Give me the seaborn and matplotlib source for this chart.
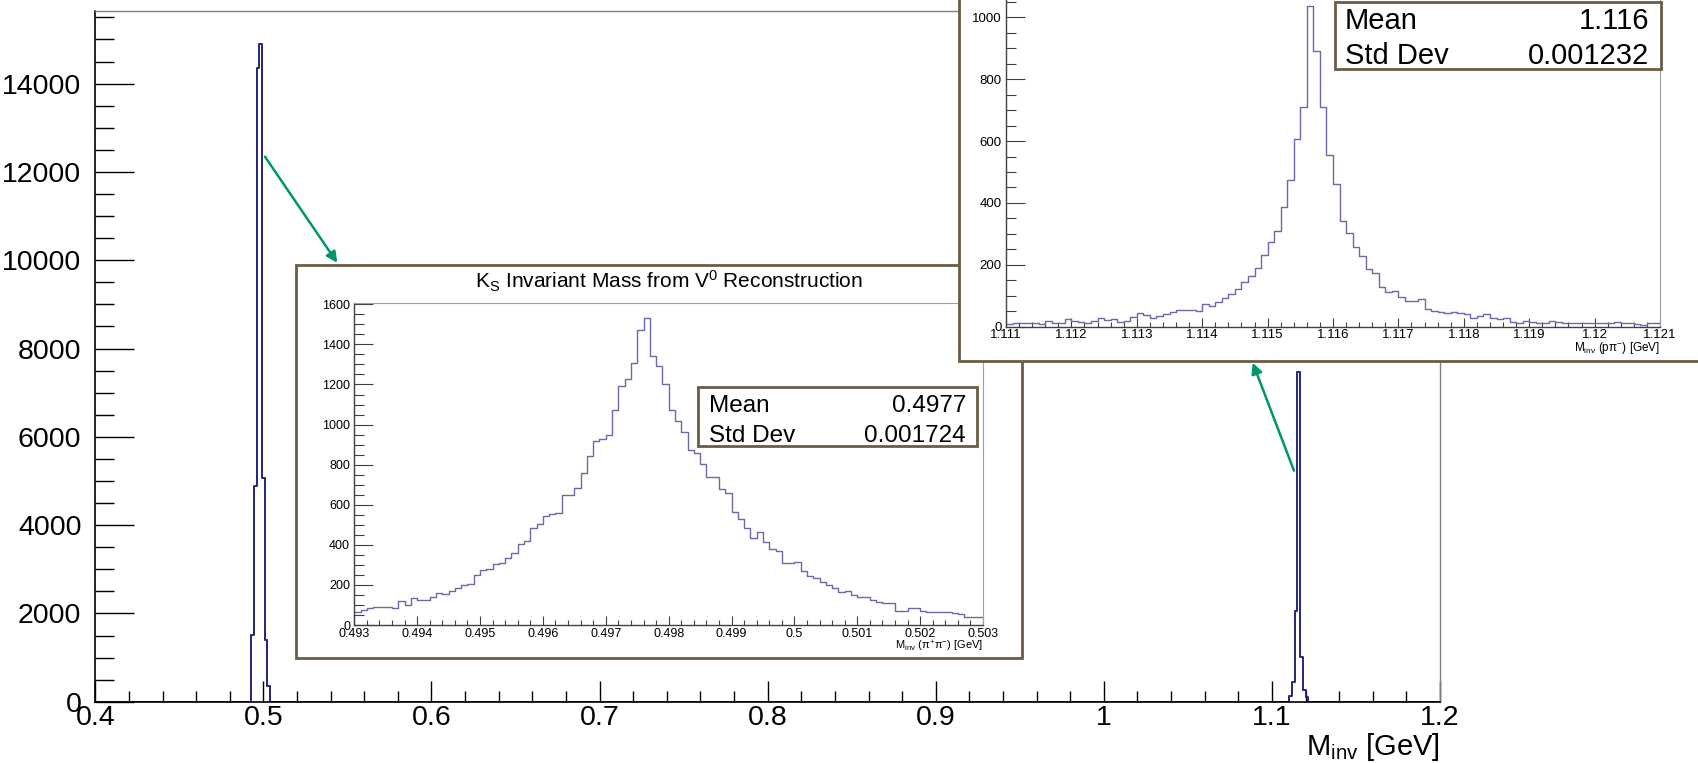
import numpy as np
import pandas as pd
import seaborn as sns
import matplotlib.pyplot as plt
from matplotlib.patches import Rectangle, FancyArrowPatch
from matplotlib.ticker import MultipleLocator, FuncFormatter

# full spectrum: 500 bins over 0.4-1.2 GeV, only the non-empty bins are listed
main_lo, main_hi, main_nbins = 0.4, 1.2, 500
ks_main_start = 0.4928
ks_main_counts = [1511, 4885, 14350, 14900, 5070, 1398, 355]
lam_main_start = 1.1104
lam_main_counts = [130, 440, 2050, 7480, 1025, 260, 120]

# K_S zoom: 100 bins over 0.493-0.503 GeV
ks_lo, ks_hi = 0.493, 0.503
ks_counts = [63, 75, 83, 88, 92, 92, 83, 120, 100, 133,
             123, 123, 141, 158, 155, 170, 183, 200, 203, 250,
             273, 280, 303, 308, 333, 358, 406, 421, 483, 506,
             546, 552, 557, 649, 649, 686, 757, 845, 920, 927,
             947, 1072, 1190, 1225, 1306, 1473, 1531, 1344, 1290, 1201,
             1072, 1018, 962, 874, 857, 805, 736, 736, 679, 657,
             566, 529, 483, 436, 466, 416, 379, 369, 308, 308,
             316, 270, 245, 233, 216, 200, 183, 163, 170, 150,
             141, 138, 125, 113, 108, 108, 70, 70, 83, 83,
             70, 67, 67, 67, 67, 62, 55, 42, 42, 42]
ks_mean, ks_std = '0.4977', '0.001724'

# Lambda zoom: 100 bins over 1.111-1.121 GeV
lam_lo, lam_hi = 1.111, 1.121
lam_counts = [9, 11, 13, 13, 11, 9, 18, 11, 13, 24,
              18, 16, 11, 18, 27, 22, 24, 16, 19, 30,
              43, 38, 29, 34, 40, 48, 53, 55, 55, 52,
              73, 67, 81, 94, 106, 121, 145, 164, 189, 232,
              275, 309, 386, 474, 606, 709, 1038, 892, 709, 555,
              460, 343, 304, 256, 228, 185, 172, 129, 113, 115,
              97, 83, 83, 88, 56, 51, 48, 43, 48, 43,
              40, 29, 34, 40, 29, 24, 27, 16, 13, 19,
              16, 13, 13, 19, 14, 11, 13, 11, 11, 13,
              11, 11, 13, 16, 11, 13, 9, 5, 11, 13]
lam_mean, lam_std = '1.116', '0.001232'

W, H = 1698, 763
sns.set_style('ticks')
plt.rcParams['font.family'] = ['Liberation Sans', 'DejaVu Sans']
plt.rcParams['mathtext.fontset'] = 'custom'
plt.rcParams['mathtext.rm'] = 'Liberation Sans'
plt.rcParams['mathtext.it'] = 'Liberation Sans:italic'
plt.rcParams['text.color'] = 'black'

pad_col = '#6b5c45'
arrow_col = '#00966b'


def fx(px):
    return px / W


def fy(py):
    return 1 - py / H


def box(x0, y0, x1, y1):
    # pixel box (top-left origin) -> figure rect
    return [fx(x0), fy(y1), (x1 - x0) / W, (y1 - y0) / H]


def binned(start, counts, lo, hi, nbins):
    width = (hi - lo) / nbins
    return pd.DataFrame({'m': start + width * (np.arange(len(counts)) + 0.5),
                         'n': np.asarray(counts, dtype=float)})


fmt = FuncFormatter(lambda v, p: f'{round(v, 6):g}')


def style(ax, xmaj, xmin, ymaj, ymin, labsize, ylen, xlen, ypad, xpad,
          dark, light, lw):
    ax.xaxis.set_major_locator(MultipleLocator(xmaj))
    ax.xaxis.set_minor_locator(MultipleLocator(xmin))
    ax.yaxis.set_major_locator(MultipleLocator(ymaj))
    ax.yaxis.set_minor_locator(MultipleLocator(ymin))
    ax.xaxis.set_major_formatter(fmt)
    ax.yaxis.set_major_formatter(fmt)
    ax.tick_params(which='both', direction='in', color=dark, labelcolor='black',
                   width=lw, left=True, bottom=True, top=False, right=False)
    ax.tick_params(axis='y', which='major', length=ylen[0], pad=ypad, labelsize=labsize)
    ax.tick_params(axis='y', which='minor', length=ylen[1])
    ax.tick_params(axis='x', which='major', length=xlen[0], pad=xpad, labelsize=labsize)
    ax.tick_params(axis='x', which='minor', length=xlen[1])
    for s in ['left', 'bottom']:
        ax.spines[s].set_color(dark)
        ax.spines[s].set_linewidth(lw + 0.2)
    for s in ['top', 'right']:
        ax.spines[s].set_color(light)
        ax.spines[s].set_linewidth(lw)
    ax.set_xlabel('')
    ax.set_ylabel('')


fig = plt.figure(figsize=(W / 100, H / 100), dpi=100)

# ---- main spectrum
ax = fig.add_axes(box(95.3, 11, 1440, 701.8))
ax.set_zorder(0)
main_edges = np.linspace(main_lo, main_hi, main_nbins + 1).tolist()
df_main = pd.concat([binned(ks_main_start, ks_main_counts, main_lo, main_hi, main_nbins),
                     binned(lam_main_start, lam_main_counts, main_lo, main_hi, main_nbins)],
                    ignore_index=True)
sns.histplot(data=df_main, x='m', weights='n', bins=main_edges, element='step', fill=False,
             color='#26267a', linewidth=1.4, ax=ax)
ax.set_xlim(main_lo, main_hi)
ax.set_ylim(0, 1.05 * df_main['n'].max())
style(ax, 0.1, 0.02, 2000, 500, 20.5, (28, 14), (15, 7.7), 10, 2,
      'black', '#808080', 1.0)
fig.text(fx(1440), fy(755), 'M$_{\\mathrm{inv}}$ [GeV]', ha='right', va='baseline',
         fontsize=21)

# ---- K_S inset pad
fig.add_artist(Rectangle((fx(296), fy(658.3)), (1022.5 - 296) / W, (658.3 - 265) / H,
                         transform=fig.transFigure, fc='white', ec=pad_col, lw=2, zorder=1))
ax_ks = fig.add_axes(box(354.3, 302.8, 983, 625))
ax_ks.set_zorder(2)
ks_edges = np.linspace(ks_lo, ks_hi, len(ks_counts) + 1).tolist()
sns.histplot(data=binned(ks_lo, ks_counts, ks_lo, ks_hi, len(ks_counts)), x='m', weights='n',
             bins=ks_edges, element='step', fill=False, color='#6a6aad', linewidth=1.0, ax=ax_ks)
ax_ks.set_xlim(ks_lo, ks_hi)
ax_ks.set_ylim(0, 1.05 * max(ks_counts))
style(ax_ks, 0.001, 0.0002, 200, 50, 9, (13.7, 7.2), (6.5, 3.6), 3, 2,
      '#404040', '#a0a0a0', 0.8)
fig.text(fx(668.6), fy(288.3), 'K$_{\\mathrm{S}}$ Invariant Mass from V$^{0}$ Reconstruction',
         ha='center', va='baseline', fontsize=15, zorder=2.5)
fig.text(fx(983), fy(650), 'M$_{\\mathrm{inv}}$ (π$^{+}$π$^{-}$) [GeV]', ha='right',
         va='baseline', fontsize=8, zorder=2.5)
fig.add_artist(Rectangle((fx(697.7), fy(445.7)), (977.3 - 697.7) / W, (445.7 - 387) / H,
                         transform=fig.transFigure, fc='white', ec=pad_col, lw=2, zorder=2.5))
fig.text(fx(709), fy(411.7), 'Mean', fontsize=17.5, va='baseline', zorder=2.6)
fig.text(fx(966), fy(411.7), ks_mean, fontsize=17.5, va='baseline', ha='right', zorder=2.6)
fig.text(fx(709), fy(441.7), 'Std Dev', fontsize=17.5, va='baseline', zorder=2.6)
fig.text(fx(966), fy(441.7), ks_std, fontsize=17.5, va='baseline', ha='right', zorder=2.6)

# ---- Lambda inset pad (runs off the top and right of the canvas)
fig.add_artist(Rectangle((fx(958.5), fy(360.7)), (1760 - 958.5) / W, (360.7 + 60) / H,
                         transform=fig.transFigure, fc='white', ec=pad_col, lw=2, zorder=3))
ax_lam = fig.add_axes(box(1006, -10.5, 1660, 326.7))
ax_lam.set_zorder(4)
lam_edges = np.linspace(lam_lo, lam_hi, len(lam_counts) + 1).tolist()
sns.histplot(data=binned(lam_lo, lam_counts, lam_lo, lam_hi, len(lam_counts)), x='m', weights='n',
             bins=lam_edges, element='step', fill=False, color='#6a6aad', linewidth=1.0, ax=ax_lam)
ax_lam.set_xlim(lam_lo, lam_hi)
ax_lam.set_ylim(0, 1.05 * max(lam_counts))
style(ax_lam, 0.001, 0.0002, 200, 50, 9.5, (13.7, 7.2), (6.5, 3.6), 3, 1.5,
      '#404040', '#a0a0a0', 0.8)
fig.text(fx(1660), fy(351), 'M$_{\\mathrm{inv}}$ (pπ$^{-}$) [GeV]', ha='right',
         va='baseline', fontsize=8.5, zorder=4.5)
fig.add_artist(Rectangle((fx(1335), fy(69.3)), (1660.7 - 1335) / W, (69.3 - 1.7) / H,
                         transform=fig.transFigure, fc='white', ec=pad_col, lw=2, zorder=4.5))
fig.text(fx(1345), fy(29.3), 'Mean', fontsize=21, va='baseline', zorder=4.6)
fig.text(fx(1649.3), fy(29.3), lam_mean, fontsize=21, va='baseline', ha='right', zorder=4.6)
fig.text(fx(1345), fy(64), 'Std Dev', fontsize=21, va='baseline', zorder=4.6)
fig.text(fx(1649.3), fy(64), lam_std, fontsize=21, va='baseline', ha='right', zorder=4.6)

# ---- arrows from the peaks to the zoom pads
for (xa, ya), (xb, yb) in [((265, 156.7), (337.3, 262.8)), ((1294, 470.7), (1252.7, 362.7))]:
    fig.add_artist(FancyArrowPatch((fx(xa), fy(ya)), (fx(xb), fy(yb)), transform=fig.transFigure,
                                   arrowstyle='-|>', mutation_scale=16, color=arrow_col, lw=1.8,
                                   shrinkA=0, shrinkB=0, zorder=10))

fig.savefig('out.png', dpi=100)
